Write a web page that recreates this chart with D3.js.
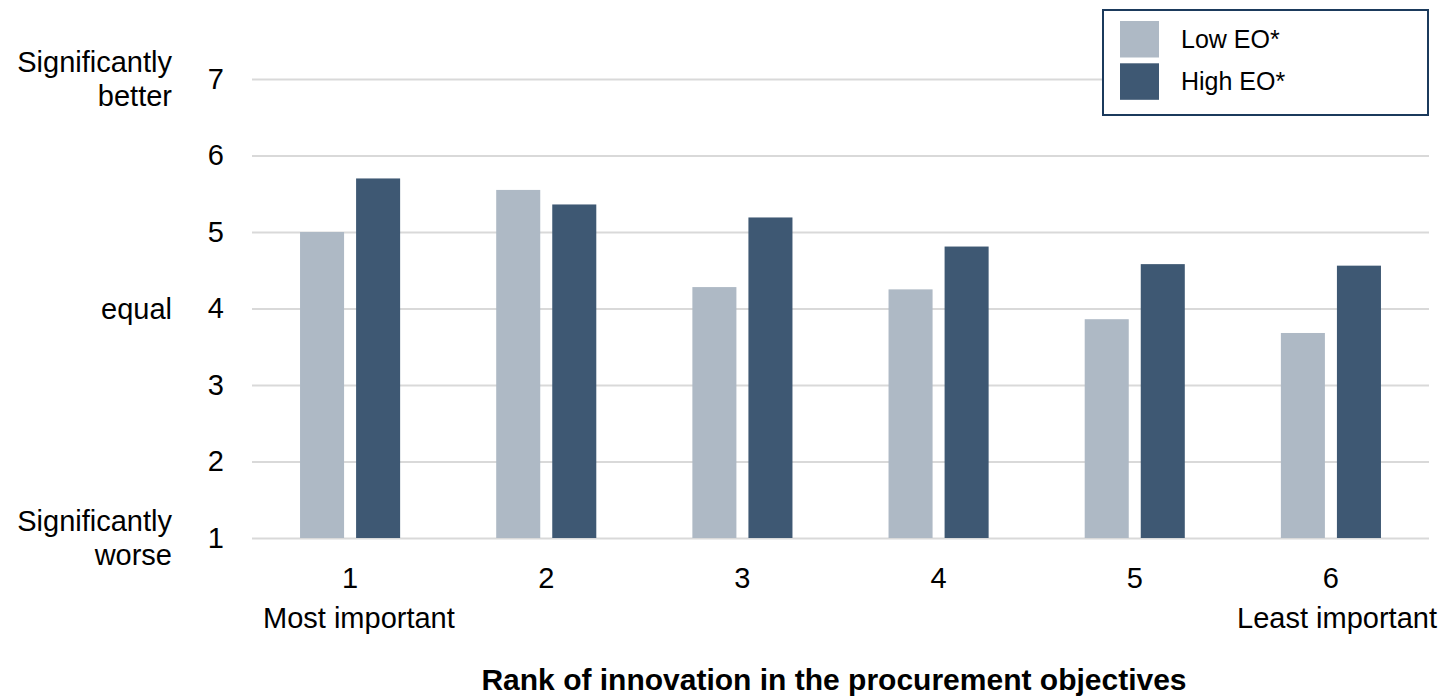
<!DOCTYPE html>
<html>
<head>
<meta charset="utf-8">
<script src="https://cdn.jsdelivr.net/npm/d3@7"></script>
<style>
  html, body { margin: 0; padding: 0; background: #ffffff; }
  svg { display: block; font-family: "Liberation Sans", Arial, sans-serif; }
</style>
</head>
<body>
<svg id="chart" width="1443" height="697"></svg>
<script>
// Innovation rank in procurement objectives vs. rated outcome, by EO level
const ranks = ["1", "2", "3", "4", "5", "6"];
const seriesNames = ["Low EO*", "High EO*"];
const lowEO = [5.00, 5.55, 4.28, 4.25, 3.86, 3.68];
const highEO = [5.70, 5.36, 5.19, 4.81, 4.58, 4.56];
const yTicks = [1, 2, 3, 4, 5, 6, 7];
const seriesColors = ["#AEB9C5", "#3E5873"];

const svg = d3.select("#chart");
const margin = { left: 252, right: 14, top: 79, bottom: 159 };
const W = 1443, H = 697;
const FONT = "Liberation Sans, Arial, sans-serif";
const textSize = 29;

const x = d3.scaleBand().domain(ranks).range([margin.left, W - margin.right]).paddingInner(0).paddingOuter(0);
const groupW = x.bandwidth() * 100 / 196;
const xs = d3.scaleBand().domain(seriesNames)
  .range([(x.bandwidth() - groupW) / 2, (x.bandwidth() + groupW) / 2])
  .paddingInner(12 / 56).paddingOuter(0);
const y = d3.scaleLinear().domain([1, 7]).range([H - margin.bottom, margin.top]);

// horizontal gridlines
const grid = d3.axisLeft(y).tickValues(yTicks).tickSize(-(W - margin.right - margin.left)).tickFormat("");
svg.append("g").attr("transform", `translate(${margin.left},0)`).call(grid)
  .call(g => g.select(".domain").remove())
  .call(g => g.selectAll("line").attr("stroke", "#D9D9D9").attr("stroke-width", 2));

// y tick labels
const yAxis = d3.axisLeft(y).tickValues(yTicks).tickSize(0).tickPadding(28).tickFormat(d3.format("d"));
svg.append("g").attr("transform", `translate(${margin.left},0)`).call(yAxis)
  .call(g => g.select(".domain").remove())
  .call(g => g.selectAll("text").attr("font-size", textSize).attr("fill", "#000").attr("font-family", FONT));

// descriptive labels beside the scale
const sideLabels = [
  { v: 7, lines: ["Significantly", "better"] },
  { v: 4, lines: ["equal"] },
  { v: 1, lines: ["Significantly", "worse"] }
];
const lineH = 34;
sideLabels.forEach(s => {
  const t = svg.append("text").attr("text-anchor", "end").attr("font-size", textSize).attr("fill", "#000");
  const n = s.lines.length;
  s.lines.forEach((ln, i) => {
    t.append("tspan").attr("x", 172)
      .attr("y", y(s.v) + 10 + (i - (n - 1) / 2) * lineH)
      .text(ln);
  });
});

// bars
const groups = svg.append("g").selectAll("g").data(ranks).join("g")
  .attr("transform", d => `translate(${x(d)},0)`);
groups.selectAll("rect")
  .data((d, i) => [
    { s: seriesNames[0], v: lowEO[i] },
    { s: seriesNames[1], v: highEO[i] }
  ])
  .join("rect")
  .attr("x", d => xs(d.s))
  .attr("width", xs.bandwidth())
  .attr("y", d => y(d.v))
  .attr("height", d => y(1) - y(d.v))
  .attr("fill", (d, i) => seriesColors[i]);

// x tick labels
const xAxis = d3.axisBottom(x).tickSize(0).tickPadding(29);
svg.append("g").attr("transform", `translate(0,${y(1)})`).call(xAxis)
  .call(g => g.select(".domain").remove())
  .call(g => g.selectAll("text").attr("font-size", textSize).attr("fill", "#000").attr("font-family", FONT));

// scale end notes
svg.append("text").attr("x", 263).attr("y", 628)
  .attr("font-size", textSize).attr("fill", "#000").text("Most important");
svg.append("text").attr("x", 1437).attr("y", 628).attr("text-anchor", "end")
  .attr("font-size", textSize).attr("fill", "#000").text("Least important");

// axis title
svg.append("text").attr("x", 834).attr("y", 690).attr("text-anchor", "middle")
  .attr("font-size", 30).attr("font-weight", "bold").attr("fill", "#000")
  .text("Rank of innovation in the procurement objectives");

// legend
const lg = svg.append("g");
lg.append("rect").attr("x", 1103).attr("y", 10).attr("width", 325).attr("height", 105)
  .attr("fill", "#fff").attr("stroke", "#1B3A5C").attr("stroke-width", 2);
seriesNames.forEach((name, i) => {
  const top = 21 + i * 42.3;
  lg.append("rect").attr("x", 1120).attr("y", top).attr("width", 39).attr("height", 36.5)
    .attr("fill", seriesColors[i]);
  lg.append("text").attr("x", 1181).attr("y", top + 18.25).attr("dy", "0.35em")
    .attr("font-size", 25).attr("fill", "#000").text(name);
});
</script>
</body>
</html>
